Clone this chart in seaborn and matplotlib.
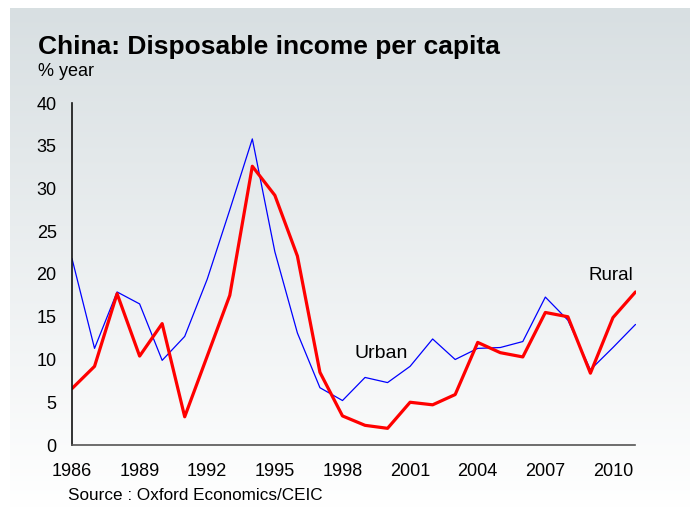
import numpy as np
import pandas as pd
import matplotlib
matplotlib.use("Agg")
import matplotlib.pyplot as plt
import seaborn as sns

years = list(range(1986, 2012))
urban = [21.8, 11.3, 17.9, 16.5, 9.9, 12.7, 19.4, 27.5, 35.8, 22.6, 13.1, 6.7, 5.2,
         7.9, 7.3, 9.2, 12.4, 10.0, 11.3, 11.4, 12.1, 17.3, 14.6, 8.8, 11.4, 14.1]
rural = [6.6, 9.2, 17.7, 10.4, 14.2, 3.3, 10.4, 17.5, 32.6, 29.2, 22.1, 8.5, 3.4,
         2.3, 1.95, 5.0, 4.7, 5.9, 12.0, 10.8, 10.3, 15.5, 15.0, 8.4, 14.9, 17.9]
xticks = list(range(1986, 2011, 3))
yticks = list(range(0, 41, 5))

df = pd.DataFrame({
    "year": years * 2,
    "value": urban + rural,
    "series": ["Urban"] * len(years) + ["Rural"] * len(years),
})

sns.set_style("white")
plt.rcParams["font.family"] = ["Liberation Sans", "DejaVu Sans"]
plt.rcParams["text.color"] = "black"

fig = plt.figure(figsize=(6.92, 5.08), dpi=100)
fig.patch.set_facecolor("white")

# gradient panel behind everything
bg = fig.add_axes([10 / 692, 0, 680 / 692, 1 - 8 / 508], zorder=0)
grad = np.linspace(0, 1, 256).reshape(-1, 1)
top = np.array([0.847, 0.875, 0.886])
bot = np.array([1.0, 1.0, 1.0])
img = top[None, None, :] * (1 - grad[..., None]) + bot[None, None, :] * grad[..., None]
bg.imshow(img, aspect="auto", extent=[0, 1, 0, 1], origin="upper")
bg.set_axis_off()

ax = fig.add_axes([72 / 692, 63 / 508, 563.5 / 692, 342 / 508], zorder=1)
ax.patch.set_alpha(0)
sns.lineplot(data=df[df.series == "Urban"], x="year", y="value", ax=ax,
             color="#0000ff", linewidth=0.9, legend=False)
sns.lineplot(data=df[df.series == "Rural"], x="year", y="value", ax=ax,
             color="#ff0000", linewidth=2.3, legend=False)

ax.set_xlim(1986, 2011)
ax.set_ylim(0, 40)
ax.set_xticks(xticks)
ax.set_yticks(yticks)
ax.set_xlabel("")
ax.set_ylabel("")
for s in ["top", "right"]:
    ax.spines[s].set_visible(False)
ax.spines["left"].set_color("#111111")
ax.spines["bottom"].set_color("#555555")
ax.spines["left"].set_linewidth(1.2)
ax.spines["bottom"].set_linewidth(1.2)
ax.tick_params(axis="both", direction="out", length=5, width=1.0,
               colors="#222222", labelsize=13, labelcolor="black")
ax.tick_params(axis="y", pad=6)
ax.tick_params(axis="x", pad=8)

ax.text(1999.7, 10.7, "Urban", fontsize=14, ha="center", va="center")
ax.text(2009.9, 19.8, "Rural", fontsize=13.5, ha="center", va="center")

fig.text(38 / 692, 1 - 47 / 508, "China: Disposable income per capita",
         fontsize=19, fontweight="bold", ha="left", va="center")
fig.text(38 / 692, 1 - 72 / 508, "% year", fontsize=13, ha="left", va="center")
fig.text(68 / 692, 1 - 496 / 508, "Source : Oxford Economics/CEIC",
         fontsize=12.3, ha="left", va="center")

fig.savefig("out.png", dpi=100)
